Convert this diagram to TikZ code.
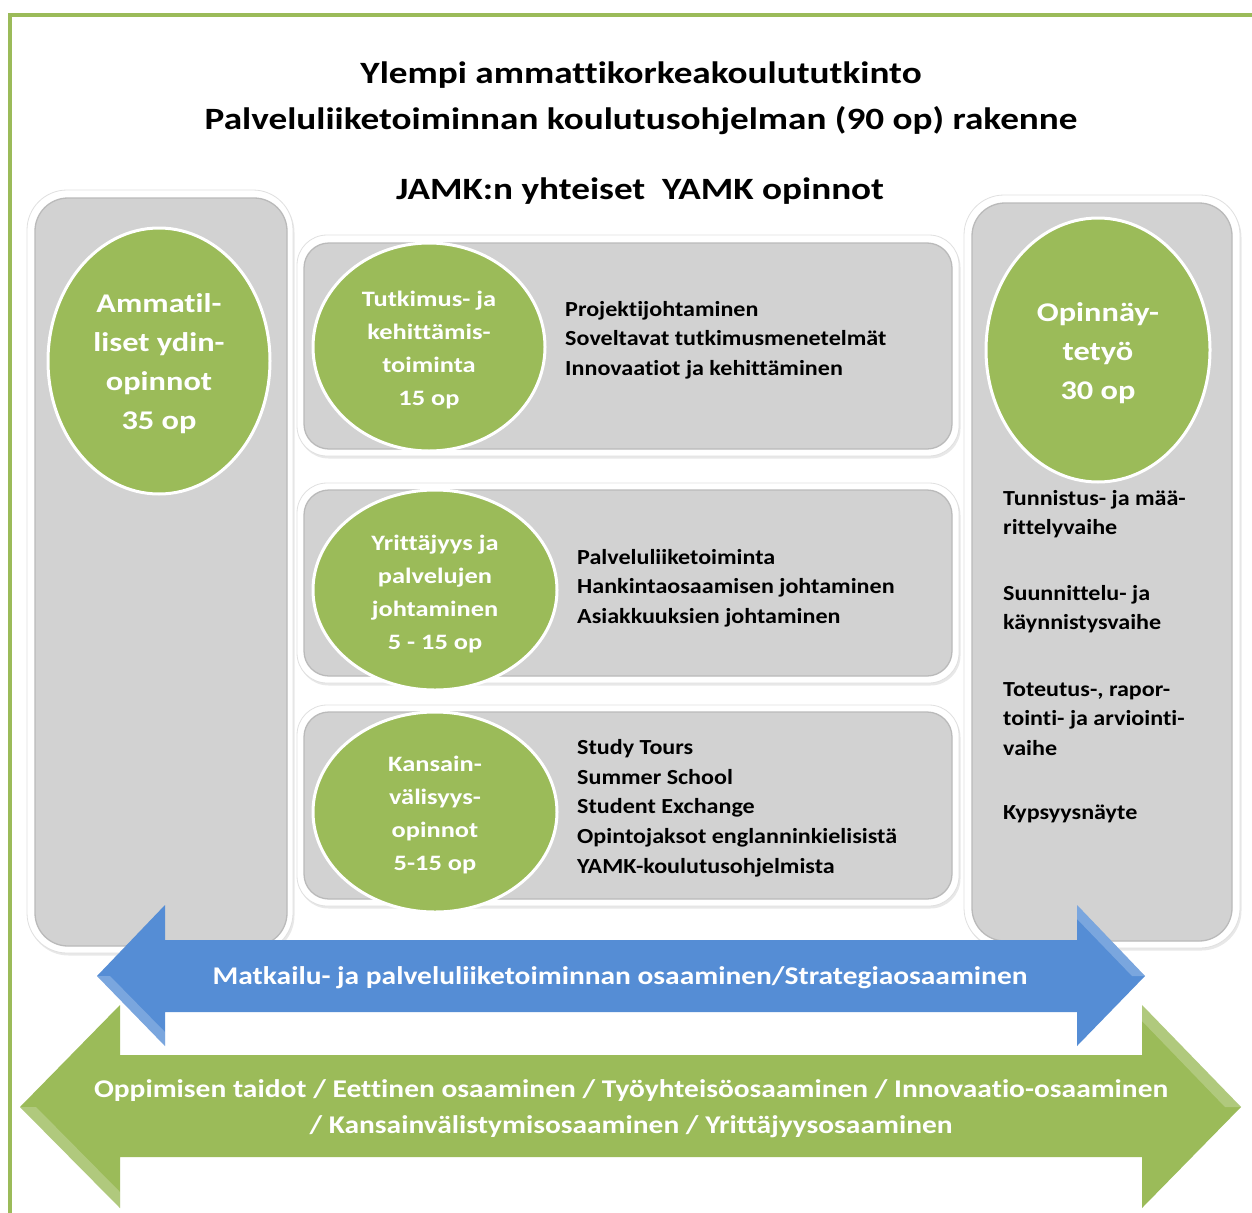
\documentclass[tikz,border=0pt]{standalone}
\usepackage{fontspec}
\setmainfont{Carlito}
\newfontfamily\wideA{Carlito}[FakeStretch=1.20, Ligatures=CommonOff]
\newfontfamily\wideB{Carlito}[FakeStretch=1.12, Ligatures=CommonOff]
\newfontfamily\wideC{Carlito}[FakeStretch=1.155, Ligatures=CommonOff]
\usetikzlibrary{shapes.geometric,shadows}
\definecolor{grn}{HTML}{9BBB59}
\definecolor{blu}{HTML}{558DD5}
\definecolor{pnl}{HTML}{D2D2D2}
\definecolor{frm}{HTML}{9BBB59}
\begin{document}
\begin{tikzpicture}[x=1pt,y=-1pt,
  outerbox/.style={fill=white, draw=black!12, line width=0.8pt,
    drop shadow={opacity=0.18, shadow xshift=1.5pt, shadow yshift=-2.5pt}},
  innerbox/.style={fill=pnl, draw=black!27, line width=1.3pt},
  ell/.style={ellipse, fill=grn, draw=white, line width=3pt, inner sep=0pt},
  elltxt/.style={text=white, align=center, inner sep=0pt},
  smalltxt/.style={elltxt, font=\wideA\fontsize{22}{33}\selectfont\bfseries},
  bigtxt/.style={elltxt, font=\wideA\fontsize{27}{39}\selectfont\bfseries},
  body/.style={anchor=west, align=left, inner sep=0pt, text=black,
    font=\wideB\fontsize{21.5}{29.7}\selectfont\bfseries},
  arrtxt/.style={text=white, align=center, inner sep=0pt,
    font=\wideC\fontsize{25.5}{36}\selectfont\bfseries}
]
\useasboundingbox (0,0) rectangle (1252,1212);
\fill[white] (0,0) rectangle (1252,1212);
% outer frame
\draw[frm, line width=4pt] (1260,15) -- (10,15) -- (10,1220);

% title
\node[font=\wideA\fontsize{31}{46}\selectfont\bfseries, align=center] (title) at (641,98)
  {Ylempi ammattikorkeakoulututkinto\\Palveluliiketoiminnan koulutusohjelman (90 op) rakenne};
\node[font=\wideA\fontsize{31}{40}\selectfont\bfseries] (sub) at (640,191) {JAMK:n yhteiset\ \ YAMK opinnot};

% left panel
\draw[outerbox, rounded corners=40] (27,190) rectangle (293,953);
\draw[innerbox, rounded corners=33] (35,198) rectangle (287,946);
% right panel
\draw[outerbox, rounded corners=40] (964,195) rectangle (1240,948);
\draw[innerbox, rounded corners=33] (972,203) rectangle (1232,941);
% middle boxes
\draw[outerbox, rounded corners=30] (297,235) rectangle (959,456);
\draw[innerbox, rounded corners=25] (304,243) rectangle (952,449);
\draw[outerbox, rounded corners=30] (297,483) rectangle (959,683);
\draw[innerbox, rounded corners=25] (304,490) rectangle (952,676);
\draw[outerbox, rounded corners=30] (297,705) rectangle (959,906);
\draw[innerbox, rounded corners=25] (304,712) rectangle (952,899);

% ellipses
\node[ell, minimum width=222, minimum height=266] (core) at (159,361) {};
\node[bigtxt] (coreT) at ([yshift=-3pt]core.center) {Ammatil-\\liset ydin-\\opinnot\\35 op};
\node[ell, minimum width=224, minimum height=264] (thesis) at (1098,350) {};
\node[bigtxt] (thesisT) at ([yshift=-3pt]thesis.center) {Opinnäy-\\tetyö\\30 op};
\node[ell, minimum width=232, minimum height=208] (tk) at (429,347) {};
\node[smalltxt] (tkT) at ([yshift=-3pt]tk.center) {Tutkimus- ja\\kehittämis-\\toiminta\\15 op};
\node[ell, minimum width=244, minimum height=200] (yp) at (435,590) {};
\node[smalltxt] (ypT) at ([yshift=-4pt]yp.center) {Yrittäjyys ja\\palvelujen\\johtaminen\\5 - 15 op};
\node[ell, minimum width=244, minimum height=200] (kv) at (435,812) {};
\node[smalltxt] (kvT) at ([yshift=-3pt]kv.center) {Kansain-\\välisyys-\\opinnot\\5-15 op};

% box texts
\node[body] (t1) at (565,340) {Projektijohtaminen\\Soveltavat tutkimusmenetelmät\\Innovaatiot ja kehittäminen};
\node[body] (t2) at (577,588) {Palveluliiketoiminta\\Hankintaosaamisen johtaminen\\Asiakkuuksien johtaminen};
\node[body] (t3) at (577,808) {Study Tours\\Summer School\\Student Exchange\\Opintojaksot englanninkielisistä\\YAMK-koulutusohjelmista};

% right panel texts
\node[body] (r1) at (1003,514) {Tunnistus- ja mää-\\rittelyvaihe};
\node[body] (r2) at (1003,609) {Suunnittelu- ja\\käynnistysvaihe};
\node[body] (r3) at (1003,719) {Toteutus-, rapor-\\tointi- ja arviointi-\\vaihe};
\node[body] (r4) at (1003,814) {Kypsyysnäyte};

% blue double arrow
\fill[blu] (97,976) -- (165,905) -- (165,940) -- (1077,940) -- (1077,905) -- (1145,976)
  -- (1077,1046) -- (1077,1012) -- (165,1012) -- (165,1046) -- cycle;
\fill[white, opacity=0.22] (97,976) -- (165,1046) -- (165,1032) -- (110,976) -- cycle;
\fill[white, opacity=0.22] (1145,976) -- (1077,905) -- (1077,919) -- (1132,976) -- cycle;
\node[arrtxt] (blueTxt) at (620,978) {Matkailu- ja palveluliiketoiminnan osaaminen/Strategiaosaaminen};

% green double arrow
\fill[grn] (20,1107) -- (120,1005) -- (120,1055) -- (1142,1055) -- (1142,1005) -- (1241,1107)
  -- (1142,1208) -- (1142,1157) -- (120,1157) -- (120,1208) -- cycle;
\fill[white, opacity=0.22] (20,1107) -- (120,1208) -- (120,1192) -- (36,1107) -- cycle;
\fill[white, opacity=0.22] (1241,1107) -- (1142,1005) -- (1142,1021) -- (1225,1107) -- cycle;
\node[arrtxt] (greenTxt) at (631,1109) {Oppimisen taidot / Eettinen osaaminen / Työyhteisöosaaminen / Innovaatio-osaaminen\\/ Kansainvälistymisosaaminen / Yrittäjyysosaaminen};
\end{tikzpicture}
\end{document}
